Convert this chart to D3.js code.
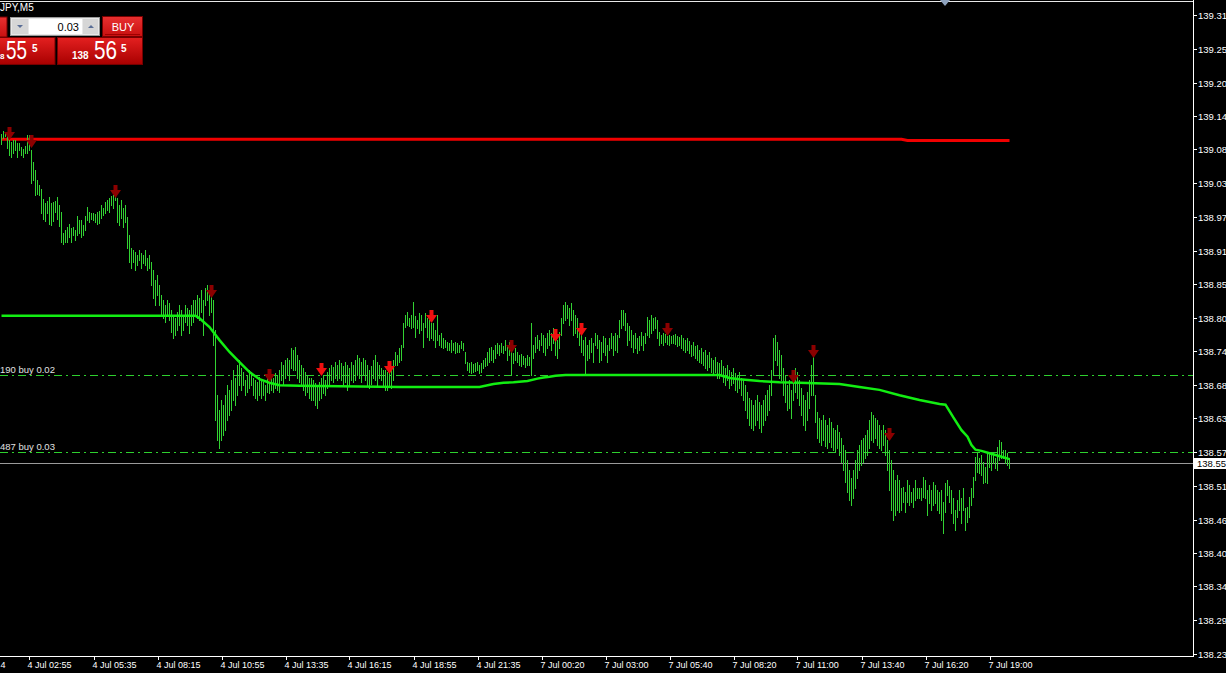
<!DOCTYPE html>
<html><head><meta charset="utf-8">
<script src="https://cdn.jsdelivr.net/npm/d3@7"></script>
<style>
html,body{margin:0;padding:0;background:#000;overflow:hidden}
svg{display:block}
text{font-family:"Liberation Sans",Arial,sans-serif}
</style></head><body>
<svg id="c" width="1226" height="673"></svg>
<script>
// ---------------- data ----------------
const highs = [
139.108,139.113,139.111,139.110,139.098,139.095,139.098,139.098,139.093,139.093,
139.086,139.083,139.088,139.106,139.106,139.081,139.061,139.047,139.030,139.022,
139.015,138.998,138.991,138.995,139.001,138.991,138.993,138.995,139.001,138.988,
138.976,138.941,138.946,138.951,138.956,138.949,138.951,138.946,138.970,138.963,
138.963,138.954,138.970,138.985,138.976,138.975,138.975,138.973,138.976,138.978,
138.988,138.983,138.993,138.996,139.000,139.003,139.005,139.013,139.000,138.988,
138.996,138.983,138.988,138.968,138.937,138.915,138.912,138.909,138.904,138.912,
138.907,138.904,138.912,138.898,138.904,138.892,138.878,138.861,138.870,138.853,
138.836,138.828,138.819,138.828,138.823,138.811,138.802,138.797,138.808,138.819,
138.811,138.802,138.819,138.814,138.811,138.819,138.828,138.828,138.836,138.831,
138.845,138.828,138.848,138.853,138.845,138.836,138.828,138.777,138.667,138.642,
138.659,138.651,138.667,138.684,138.676,138.693,138.710,138.696,138.718,138.727,
138.713,138.706,138.693,138.701,138.710,138.706,138.696,138.693,138.690,138.698,
138.693,138.690,138.684,138.696,138.693,138.700,138.696,138.705,138.701,138.710,
138.723,138.718,138.727,138.730,138.727,138.747,138.743,138.748,138.735,138.727,
138.718,138.713,138.706,138.701,138.696,138.696,138.693,138.688,138.684,138.690,
138.696,138.701,138.693,138.706,138.713,138.718,138.715,138.723,138.718,138.727,
138.722,138.717,138.723,138.718,138.713,138.723,138.718,138.727,138.735,138.730,
138.723,138.730,138.727,138.718,138.710,138.717,138.727,138.735,138.723,138.718,
138.713,138.710,138.710,138.706,138.718,138.713,138.727,138.740,138.735,138.747,
138.752,138.789,138.802,138.808,138.797,138.802,138.824,138.800,138.794,138.806,
138.802,138.789,138.806,138.797,138.794,138.789,138.789,138.777,138.802,138.769,
138.772,138.763,138.760,138.757,138.755,138.760,138.755,138.757,138.755,138.752,
138.758,138.755,138.740,138.723,138.722,138.723,138.720,138.722,138.723,138.718,
138.722,138.727,138.730,138.740,138.747,138.748,138.743,138.752,138.755,138.752,
138.755,138.750,138.760,138.752,138.757,138.743,138.738,138.747,138.740,138.735,
138.737,138.733,138.730,138.735,138.732,138.789,138.752,138.765,138.769,138.760,
138.772,138.769,138.763,138.772,138.777,138.772,138.780,138.769,138.760,138.774,
138.797,138.819,138.824,138.819,138.814,138.823,138.811,138.802,138.797,138.777,
138.769,138.760,138.765,138.752,138.760,138.763,138.755,138.772,138.769,138.760,
138.757,138.767,138.763,138.752,138.763,138.772,138.767,138.772,138.769,138.794,
138.811,138.811,138.806,138.789,138.784,138.777,138.769,138.772,138.763,138.767,
138.774,138.767,138.772,138.799,138.794,138.802,138.797,138.799,138.794,138.774,
138.769,138.772,138.770,138.767,138.769,138.767,138.769,138.770,138.767,138.765,
138.769,138.763,138.760,138.763,138.758,138.752,138.757,138.750,138.752,138.743,
138.747,138.740,138.743,138.735,138.740,138.730,138.727,138.732,138.723,138.722,
138.727,138.717,138.713,138.718,138.710,138.706,138.713,138.705,138.701,138.706,
138.696,138.693,138.684,138.673,138.662,138.659,138.651,138.659,138.667,138.656,
138.651,138.659,138.667,138.676,138.684,138.710,138.763,138.769,138.757,138.743,
138.735,138.713,138.701,138.684,138.693,138.676,138.701,138.713,138.706,138.693,
138.679,138.667,138.659,138.673,138.693,138.718,138.752,138.667,138.639,138.629,
138.625,138.634,138.625,138.617,138.629,138.622,138.612,138.608,138.617,138.605,
138.595,138.583,138.575,138.558,138.541,138.527,138.541,138.558,138.575,138.583,
138.592,138.595,138.600,138.608,138.625,138.639,138.634,138.629,138.625,138.617,
138.608,138.617,138.608,138.592,138.575,138.558,138.541,138.524,138.532,138.524,
138.510,138.512,138.504,138.524,138.515,138.504,138.510,138.524,138.510,138.510,
138.510,138.529,138.524,138.507,138.515,138.507,138.521,138.515,138.507,138.504,
138.507,138.487,138.519,138.524,138.514,138.507,138.494,138.473,138.490,138.507,
138.494,138.510,138.477,138.478,138.495,138.510,138.529,138.563,138.570,138.561,
138.566,138.554,138.546,138.570,138.570,138.566,138.570,138.561,138.580,138.592,
138.588,138.575,138.575,138.570,138.561];
const lows = [
139.091,139.101,139.105,139.084,139.072,139.069,139.076,139.081,139.069,139.081,
139.072,139.069,139.076,139.076,139.081,139.025,139.030,139.005,139.006,139.005,
138.975,138.965,138.961,138.975,138.956,138.954,138.961,138.976,138.965,138.953,
138.926,138.922,138.926,138.926,138.934,138.926,138.937,138.929,138.937,138.941,
138.934,138.937,138.946,138.963,138.959,138.965,138.963,138.959,138.956,138.958,
138.966,138.971,138.975,138.980,138.976,138.988,138.983,138.996,138.959,138.954,
138.966,138.951,138.959,138.915,138.892,138.881,138.892,138.878,138.887,138.895,
138.881,138.890,138.887,138.878,138.881,138.853,138.831,138.819,138.836,138.819,
138.802,138.797,138.791,138.802,138.794,138.774,138.763,138.769,138.777,138.786,
138.769,138.777,138.791,138.786,138.772,138.786,138.791,138.802,138.797,138.794,
138.808,138.769,138.819,138.828,138.802,138.808,138.752,138.625,138.592,138.578,
138.592,138.600,138.608,138.625,138.634,138.642,138.659,138.651,138.667,138.684,
138.676,138.684,138.667,138.673,138.679,138.684,138.667,138.662,138.659,138.667,
138.662,138.667,138.659,138.673,138.671,138.676,138.673,138.679,138.676,138.673,
138.693,138.684,138.696,138.701,138.693,138.713,138.710,138.710,138.696,138.690,
138.684,138.676,138.667,138.673,138.662,138.659,138.659,138.651,138.646,138.659,
138.662,138.671,138.667,138.679,138.684,138.693,138.690,138.696,138.693,138.696,
138.693,138.684,138.690,138.676,138.684,138.693,138.690,138.693,138.701,138.696,
138.690,138.701,138.693,138.684,138.679,138.686,138.696,138.693,138.684,138.696,
138.693,138.684,138.676,138.676,138.684,138.679,138.693,138.718,138.718,138.723,
138.727,138.748,138.782,138.786,138.784,138.780,138.782,138.765,138.780,138.772,
138.777,138.748,138.782,138.765,138.760,138.763,138.760,138.748,138.760,138.752,
138.748,138.747,138.748,138.743,138.743,138.740,138.743,138.738,138.740,138.740,
138.747,138.743,138.722,138.710,138.706,138.705,138.706,138.708,138.710,138.705,
138.706,138.713,138.717,138.718,138.723,138.727,138.723,138.730,138.738,138.735,
138.740,138.738,138.743,138.727,138.735,138.701,138.722,138.727,138.723,138.718,
138.717,138.720,138.715,138.718,138.718,138.701,138.730,138.740,138.747,138.743,
138.752,138.740,138.735,138.747,138.752,138.743,138.755,138.735,138.730,138.747,
138.769,138.789,138.794,138.797,138.786,138.794,138.769,138.772,138.765,138.752,
138.740,138.735,138.701,138.727,138.730,138.740,138.723,138.752,138.747,138.723,
138.727,138.740,138.735,138.723,138.743,138.747,138.735,138.743,138.740,138.765,
138.780,138.786,138.777,138.752,138.760,138.748,138.740,138.747,138.738,138.743,
138.752,138.743,138.755,138.769,138.765,138.772,138.777,138.780,138.763,138.752,
138.755,138.752,138.757,138.753,138.752,138.755,138.755,138.753,138.750,138.752,
138.747,138.743,138.740,138.743,138.738,138.733,138.735,138.730,138.727,138.723,
138.722,138.718,138.713,138.710,138.715,138.706,138.701,138.706,138.696,138.696,
138.701,138.690,138.684,138.693,138.679,138.684,138.688,138.676,138.673,138.679,
138.667,138.659,138.642,138.629,138.617,138.612,138.608,138.617,138.625,138.612,
138.605,138.617,138.625,138.634,138.642,138.667,138.701,138.727,138.718,138.696,
138.693,138.667,138.656,138.642,138.646,138.629,138.659,138.673,138.662,138.651,
138.634,138.617,138.608,138.625,138.646,138.667,138.667,138.622,138.595,138.588,
138.583,138.592,138.582,138.578,138.588,138.580,138.575,138.571,138.578,138.566,
138.554,138.541,138.521,138.504,138.490,138.482,138.494,138.510,138.527,138.541,
138.549,138.554,138.561,138.566,138.578,138.592,138.588,138.595,138.583,138.578,
138.575,138.583,138.566,138.541,138.507,138.473,138.456,138.465,138.473,138.470,
138.473,138.487,138.470,138.487,138.482,138.487,138.478,138.490,138.494,138.494,
138.490,138.495,138.494,138.465,138.485,138.473,138.482,138.485,138.473,138.468,
138.456,138.435,138.470,138.499,138.487,138.468,138.451,138.440,138.461,138.473,
138.451,138.473,138.440,138.453,138.461,138.482,138.495,138.524,138.537,138.536,
138.532,138.519,138.521,138.519,138.546,138.541,138.553,138.544,138.541,138.558,
138.561,138.561,138.553,138.549,138.544];

// moving average (green) sampled at bar indices
const maBars = [0,97,99,104,109,114,119,124,129,134,139,149,199,239,246,251,256,263,268,271,274,277,282,359,364,369,379,389,399,419,429,439,449,459,469,472,476,480,483,485,487,490,494,497,500,504];
const maValues = [138.801,138.801,138.797,138.782,138.760,138.740,138.723,138.706,138.694,138.688,138.684,138.683,138.681,138.681,138.686,138.688,138.689,138.691,138.695,138.697,138.698,138.700,138.701,138.701,138.696,138.694,138.691,138.689,138.688,138.686,138.681,138.676,138.667,138.659,138.652,138.651,138.629,138.608,138.597,138.583,138.575,138.573,138.569,138.566,138.563,138.559];

// red average line
const redBars = [0,450,453,504];
const redValues = [139.099,139.099,139.097,139.097];

// signal arrows
const arrowBars = [4,15,57,105,134,160,194,215,255,277,290,333,396,406,444];
const arrowTops = [139.120,139.106,139.022,138.853,138.711,138.722,138.725,138.811,138.760,138.779,138.789,138.789,138.710,138.752,138.612];
const arrowKinds = ["dark","dark","dark","dark","dark","bright","bright","bright","dark","bright","bright","dark","dark","dark","dark"];

// order lines
const orderPrices = [138.701,138.571];
const orderLabels = ["190 buy 0.02","487 buy 0.03"];
const currentPrice = 138.553;
const currentLabel = "138.55";

// axes
const yTickValues = [139.309,139.252,139.195,139.139,139.082,139.025,138.968,138.911,138.855,138.798,138.741,138.684,138.628,138.571,138.514,138.457,138.400,138.344,138.287,138.230];
const yTickLabels = ["139.31","139.25","139.20","139.14","139.08","139.03","138.97","138.91","138.85","138.80","138.74","138.68","138.63","138.57","138.51","138.46","138.40","138.34","138.29","138.23"];
const xTickBars = [-18,14,46,78,110,142,174,206,238,270,302,334,366,398,430,462,494];
const xTickLabels = ["4","4 Jul 02:55","4 Jul 05:35","4 Jul 08:15","4 Jul 10:55","4 Jul 13:35","4 Jul 16:15","4 Jul 18:55","4 Jul 21:35","7 Jul 00:20","7 Jul 03:00","7 Jul 05:40","7 Jul 08:20","7 Jul 11:00","7 Jul 13:40","7 Jul 16:20","7 Jul 19:00"];

// ---------------- drawing ----------------
const W = 1226, H = 673, axisX = 1193, axisY = 656;
const svg = d3.select("#c");
svg.append("rect").attr("width",W).attr("height",H).attr("fill","#000");

const x = d3.scaleLinear().domain([0,504]).range([1.5,1009.5]);
const y = d3.scaleLinear().domain([138.230,139.309]).range([654,15]);

const defs = svg.append("defs");
defs.append("clipPath").attr("id","plot").append("rect").attr("x",0).attr("y",0).attr("width",axisX).attr("height",axisY);
const g1 = defs.append("linearGradient").attr("id","redg").attr("x1",0).attr("y1",0).attr("x2",0).attr("y2",1);
g1.append("stop").attr("offset","0%").attr("stop-color","#e42020");
g1.append("stop").attr("offset","100%").attr("stop-color","#a80000");
const g2 = defs.append("linearGradient").attr("id","redb").attr("x1",0).attr("y1",0).attr("x2",0).attr("y2",1);
g2.append("stop").attr("offset","0%").attr("stop-color","#e83030");
g2.append("stop").attr("offset","100%").attr("stop-color","#c81010");

const plot = svg.append("g").attr("clip-path","url(#plot)");

// top border
svg.append("line").attr("x1",0).attr("x2",axisX).attr("y1",1.5).attr("y2",1.5).attr("stroke","#e8e8e8");

// red line
plot.append("path").datum(redBars.map((b,i)=>[b,redValues[i]]))
  .attr("d", d3.line().x(d=>x(d[0])).y(d=>y(d[1])))
  .attr("fill","none").attr("stroke","#f00000").attr("stroke-width",3);

// order lines
orderPrices.forEach((p,i)=>{
  plot.append("line").attr("x1",0).attr("x2",axisX)
    .attr("y1",Math.round(y(p))+0.5).attr("y2",Math.round(y(p))+0.5)
    .attr("stroke","#2ed02e").attr("stroke-width",1).attr("stroke-dasharray","8,4,2,4")
    .attr("shape-rendering","crispEdges");
  plot.append("text").attr("x",0).attr("y",Math.round(y(p))-2)
    .attr("fill","#e0e0e0").attr("font-size","9.5px").text(orderLabels[i]);
});

// current price line
plot.append("line").attr("x1",0).attr("x2",axisX)
  .attr("y1",Math.round(y(currentPrice))+0.5).attr("y2",Math.round(y(currentPrice))+0.5)
  .attr("stroke","#9a9a9a").attr("shape-rendering","crispEdges");

// bars
plot.append("g").selectAll("line").data(highs).join("line")
  .attr("x1",(d,i)=>x(i)).attr("x2",(d,i)=>x(i))
  .attr("y1",d=>Math.round(y(d))).attr("y2",(d,i)=>Math.round(y(lows[i]))+1)
  .attr("stroke","#32d232").attr("stroke-width",1).attr("shape-rendering","crispEdges");

// MA line
plot.append("path").datum(maBars.map((b,i)=>[b,maValues[i]]))
  .attr("d", d3.line().x(d=>x(d[0])).y(d=>y(d[1])))
  .attr("fill","none").attr("stroke","#12ee12").attr("stroke-width",2.5);

// arrows
const arrowPath = "M-2,0 L2,0 L2,5 L5.5,5 L0,13 L-5.5,5 L-2,5 Z";
plot.append("g").selectAll("path").data(arrowBars).join("path")
  .attr("d",arrowPath)
  .attr("transform",(d,i)=>`translate(${x(d)},${Math.round(y(arrowTops[i]))})`)
  .attr("fill",(d,i)=>arrowKinds[i]==="dark" ? "#8c0000" : "#f01010");

// axes lines
svg.append("line").attr("x1",axisX+0.5).attr("x2",axisX+0.5).attr("y1",0).attr("y2",axisY+0.5)
  .attr("stroke","#fff").attr("shape-rendering","crispEdges");
svg.append("line").attr("x1",0).attr("x2",axisX+0.5).attr("y1",axisY+0.5).attr("y2",axisY+0.5)
  .attr("stroke","#fff").attr("shape-rendering","crispEdges");

// y ticks
const yt = svg.append("g");
yTickValues.forEach((v,i)=>{
  const yy = Math.round(y(v))+0.5;
  yt.append("line").attr("x1",axisX).attr("x2",axisX+4).attr("y1",yy).attr("y2",yy).attr("stroke","#fff").attr("shape-rendering","crispEdges");
  yt.append("text").attr("x",axisX+5).attr("y",yy+3.5).attr("fill","#fff").attr("font-size","9.5px").text(yTickLabels[i]);
});

// x ticks
const xt = svg.append("g");
xTickBars.forEach((b,i)=>{
  const xx = Math.round(x(b))+0.5;
  xt.append("line").attr("x1",xx).attr("x2",xx).attr("y1",axisY).attr("y2",axisY+4).attr("stroke","#fff").attr("shape-rendering","crispEdges");
  const tx = i === 0 ? 0.5 : xx - 2;
  xt.append("text").attr("x",tx).attr("y",668).attr("fill","#fff").attr("font-size","9px").text(xTickLabels[i]);
});

// current price label
svg.append("rect").attr("x",axisX+1).attr("y",Math.round(y(currentPrice))-5).attr("width",40).attr("height",11).attr("fill","#fff");
svg.append("text").attr("x",axisX+4).attr("y",Math.round(y(currentPrice))+4).attr("fill","#000").attr("font-size","9.5px").text(currentLabel);

// chart-shift marker
svg.append("path").attr("d","M940,0 L950,0 L945,6 Z").attr("fill","#8ea2bd");

// symbol title
svg.append("text").attr("x",0).attr("y",11).attr("fill","#fff").attr("font-size","10px").text("JPY,M5");

// one-click trading panel
const p = svg.append("g");
p.append("rect").attr("x",-40).attr("y",17).attr("width",47).attr("height",20).attr("fill","url(#redb)").attr("stroke","#700");
p.append("rect").attr("x",10.5).attr("y",17.5).attr("width",89).attr("height",18).attr("fill","#e8e8e8").attr("stroke","#9a9a9a");
p.append("rect").attr("x",12).attr("y",19).attr("width",16).attr("height",15).attr("fill","#d6d6d6");
p.append("path").attr("d","M17,25 L23,25 L20,28 Z").attr("fill","#5a6e96");
p.append("rect").attr("x",29).attr("y",19).attr("width",53).attr("height",15).attr("fill","#fff");
p.append("text").attr("x",79).attr("y",30.5).attr("text-anchor","end").attr("fill","#000").attr("font-size","11px").text("0.03");
p.append("rect").attr("x",83).attr("y",19).attr("width",15).attr("height",15).attr("fill","#d6d6d6");
p.append("path").attr("d","M88,28 L94,28 L91,25 Z").attr("fill","#5a6e96");
p.append("rect").attr("x",102.5).attr("y",16.5).attr("width",40).attr("height",20).attr("fill","url(#redb)").attr("stroke","#700");
p.append("line").attr("x1",105).attr("x2",140).attr("y1",34.5).attr("y2",34.5).attr("stroke","#a00000");
p.append("text").attr("x",123).attr("y",31).attr("text-anchor","middle").attr("fill","#fff").attr("font-size","11px").text("BUY");

p.append("rect").attr("x",-40).attr("y",37.5).attr("width",95).attr("height",27).attr("fill","url(#redg)").attr("stroke","#700");
p.append("rect").attr("x",57.5).attr("y",37.5).attr("width",85).attr("height",27).attr("fill","url(#redg)").attr("stroke","#700");
p.append("text").attr("x",0).attr("y",59).attr("fill","#fff").attr("font-size","8px").attr("font-weight","bold").text("8");
p.append("text").attr("x",6).attr("y",59).attr("fill","#fff").attr("font-size","25px")
  .attr("textLength",21).attr("lengthAdjust","spacingAndGlyphs").text("55");
p.append("text").attr("x",32).attr("y",52).attr("fill","#fff").attr("font-size","10px").attr("font-weight","bold").text("5");
p.append("text").attr("x",72).attr("y",59).attr("fill","#fff").attr("font-size","10px").attr("font-weight","bold").text("138");
p.append("text").attr("x",94).attr("y",59).attr("fill","#fff").attr("font-size","25px")
  .attr("textLength",23).attr("lengthAdjust","spacingAndGlyphs").text("56");
p.append("text").attr("x",121).attr("y",52).attr("fill","#fff").attr("font-size","10px").attr("font-weight","bold").text("5");
</script>
</body></html>
